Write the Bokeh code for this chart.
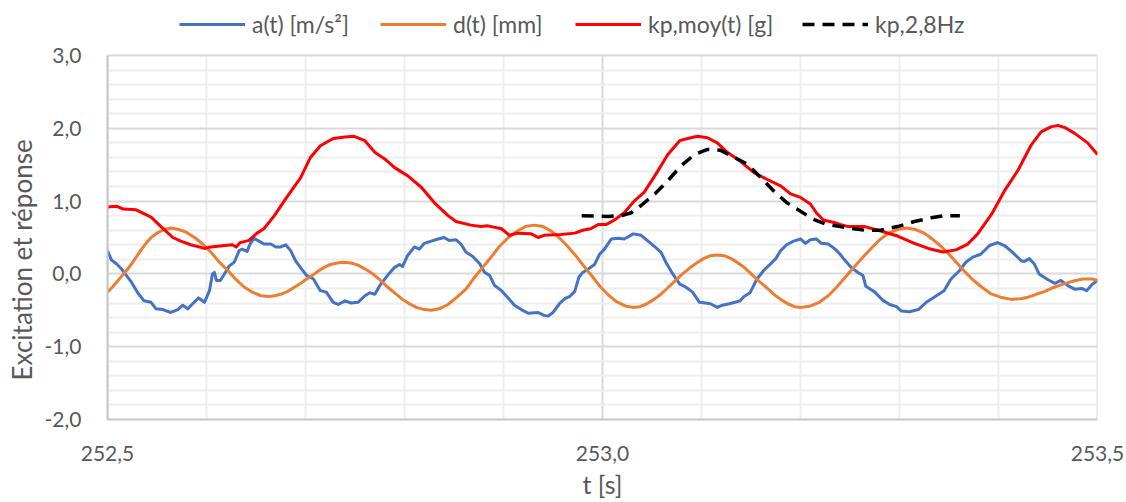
from bokeh.plotting import figure
from bokeh.models import Range1d, FixedTicker, Legend, LegendItem
from bokeh.embed import file_html
from bokeh.resources import INLINE

# ---------------- data ----------------
a_t = [252.500, 252.504, 252.509, 252.514, 252.519, 252.524, 252.531, 252.537, 252.544, 252.549,
       252.556, 252.564, 252.571, 252.576, 252.581, 252.586, 252.592, 252.598, 252.603, 252.606,
       252.608, 252.610, 252.614, 252.619, 252.623, 252.628, 252.633, 252.636, 252.641, 252.644,
       252.648, 252.653, 252.658, 252.665, 252.670, 252.675, 252.680, 252.685, 252.690, 252.696,
       252.701, 252.708, 252.715, 252.721, 252.728, 252.733, 252.740, 252.746, 252.753, 252.760,
       252.765, 252.770, 252.776, 252.783, 252.790, 252.795, 252.798, 252.803, 252.810, 252.815,
       252.820, 252.827, 252.834, 252.840, 252.845, 252.852, 252.857, 252.862, 252.869, 252.876,
       252.881, 252.886, 252.891, 252.898, 252.904, 252.911, 252.918, 252.925, 252.935, 252.941,
       252.945, 252.950, 252.957, 252.962, 252.967, 252.972, 252.976, 252.980, 252.986, 252.992,
       252.997, 253.002, 253.009, 253.016, 253.022, 253.031, 253.039, 253.046, 253.053, 253.059,
       253.064, 253.071, 253.078, 253.084, 253.091, 253.098, 253.104, 253.109, 253.116, 253.121,
       253.128, 253.134, 253.139, 253.143, 253.149, 253.156, 253.163, 253.170, 253.175, 253.180,
       253.186, 253.193, 253.200, 253.205, 253.210, 253.216, 253.221, 253.228, 253.235, 253.240,
       253.244, 253.251, 253.258, 253.263, 253.266, 253.275, 253.283, 253.290, 253.297, 253.302,
       253.310, 253.319, 253.327, 253.335, 253.345, 253.352, 253.361, 253.367, 253.374, 253.382,
       253.391, 253.399, 253.406, 253.414, 253.423, 253.426, 253.431, 253.436, 253.441, 253.450,
       253.457, 253.463, 253.470, 253.477, 253.484, 253.489, 253.495, 253.500]
a_v = [0.32, 0.19, 0.14, 0.07, -0.02, -0.11, -0.27, -0.37, -0.39, -0.48,
       -0.49, -0.53, -0.49, -0.43, -0.48, -0.41, -0.33, -0.39, -0.23, 0.00,
       0.02, -0.09, -0.09, 0.02, 0.11, 0.16, 0.32, 0.34, 0.31, 0.41,
       0.49, 0.45, 0.41, 0.41, 0.37, 0.37, 0.40, 0.32, 0.18, 0.07,
       -0.02, -0.07, -0.23, -0.25, -0.39, -0.42, -0.37, -0.40, -0.39, -0.30,
       -0.26, -0.28, -0.14, -0.02, 0.09, 0.13, 0.10, 0.25, 0.37, 0.34,
       0.42, 0.45, 0.48, 0.50, 0.46, 0.47, 0.41, 0.30, 0.24, 0.14,
       0.02, -0.02, -0.16, -0.23, -0.32, -0.43, -0.49, -0.54, -0.53, -0.57,
       -0.58, -0.53, -0.40, -0.34, -0.31, -0.24, -0.05, 0.02, 0.07, 0.13,
       0.27, 0.34, 0.48, 0.49, 0.48, 0.55, 0.53, 0.45, 0.37, 0.30,
       0.16, 0.00, -0.14, -0.18, -0.25, -0.39, -0.40, -0.41, -0.46, -0.43,
       -0.41, -0.39, -0.37, -0.31, -0.26, -0.07, 0.05, 0.14, 0.21, 0.32,
       0.40, 0.45, 0.48, 0.42, 0.47, 0.48, 0.42, 0.41, 0.34, 0.27,
       0.20, 0.09, 0.02, -0.02, -0.17, -0.25, -0.36, -0.42, -0.45, -0.51,
       -0.52, -0.49, -0.39, -0.32, -0.23, -0.07, 0.05, 0.16, 0.23, 0.27,
       0.39, 0.43, 0.39, 0.30, 0.18, 0.17, 0.21, 0.14, 0.00, -0.08,
       -0.13, -0.09, -0.16, -0.21, -0.20, -0.23, -0.14, -0.09]

d_t = [252.500, 252.505, 252.510, 252.515, 252.520, 252.525, 252.530, 252.535, 252.540, 252.545,
       252.550, 252.557, 252.564, 252.572, 252.580, 252.589, 252.597, 252.605, 252.613, 252.622,
       252.630, 252.638, 252.646, 252.655, 252.663, 252.669, 252.675, 252.682, 252.688, 252.694,
       252.700, 252.707, 252.713, 252.719, 252.725, 252.732, 252.738, 252.746, 252.753, 252.760,
       252.768, 252.775, 252.782, 252.790, 252.797, 252.805, 252.812, 252.820, 252.827, 252.835,
       252.844, 252.853, 252.862, 252.870, 252.879, 252.888, 252.896, 252.905, 252.914, 252.922,
       252.931, 252.940, 252.948, 252.956, 252.964, 252.973, 252.981, 252.990, 252.998, 253.006,
       253.014, 253.023, 253.031, 253.038, 253.045, 253.052, 253.059, 253.066, 253.073, 253.080,
       253.088, 253.095, 253.102, 253.109, 253.116, 253.123, 253.130, 253.137, 253.144, 253.151,
       253.158, 253.166, 253.173, 253.180, 253.187, 253.194, 253.201, 253.210, 253.219, 253.228,
       253.236, 253.245, 253.254, 253.263, 253.272, 253.280, 253.289, 253.298, 253.307, 253.316,
       253.325, 253.333, 253.342, 253.350, 253.358, 253.366, 253.374, 253.383, 253.392, 253.402,
       253.413, 253.422, 253.430, 253.438, 253.447, 253.455, 253.463, 253.470, 253.478, 253.485,
       253.490, 253.495, 253.500]
d_v = [-0.25, -0.18, -0.10, -0.02, 0.06, 0.15, 0.25, 0.35, 0.44, 0.51,
       0.56, 0.61, 0.63, 0.61, 0.57, 0.49, 0.40, 0.29, 0.16, 0.04,
       -0.08, -0.18, -0.25, -0.30, -0.31, -0.30, -0.28, -0.24, -0.19, -0.14,
       -0.08, -0.02, 0.04, 0.09, 0.13, 0.15, 0.16, 0.15, 0.12, 0.07,
       0.00, -0.08, -0.17, -0.26, -0.34, -0.41, -0.46, -0.49, -0.50, -0.48,
       -0.42, -0.32, -0.21, -0.06, 0.09, 0.24, 0.38, 0.50, 0.59, 0.65,
       0.67, 0.65, 0.59, 0.50, 0.39, 0.25, 0.11, -0.04, -0.18, -0.29,
       -0.38, -0.44, -0.46, -0.45, -0.41, -0.35, -0.28, -0.19, -0.10, -0.01,
       0.08, 0.15, 0.21, 0.25, 0.26, 0.25, 0.21, 0.15, 0.08, -0.01,
       -0.10, -0.19, -0.28, -0.35, -0.41, -0.45, -0.46, -0.44, -0.39, -0.30,
       -0.19, -0.05, 0.09, 0.23, 0.36, 0.47, 0.56, 0.61, 0.63, 0.61,
       0.56, 0.48, 0.38, 0.27, 0.15, 0.03, -0.08, -0.18, -0.27, -0.32,
       -0.35, -0.34, -0.32, -0.28, -0.24, -0.19, -0.15, -0.12, -0.09, -0.07,
       -0.07, -0.07, -0.09]

k_t = [252.500, 252.509, 252.516, 252.529, 252.544, 252.554, 252.566, 252.574, 252.584, 252.598,
       252.604, 252.626, 252.630, 252.634, 252.643, 252.651, 252.658, 252.668, 252.681, 252.695,
       252.705, 252.715, 252.728, 252.740, 252.749, 252.760, 252.770, 252.780, 252.790, 252.803,
       252.817, 252.830, 252.844, 252.852, 252.867, 252.877, 252.884, 252.898, 252.906, 252.914,
       252.928, 252.935, 252.941, 252.958, 252.972, 252.980, 252.988, 252.996, 253.004, 253.012,
       253.022, 253.032, 253.042, 253.053, 253.066, 253.078, 253.086, 253.096, 253.106, 253.116,
       253.126, 253.139, 253.153, 253.166, 253.180, 253.190, 253.200, 253.210, 253.216, 253.223,
       253.233, 253.240, 253.248, 253.265, 253.281, 253.298, 253.315, 253.329, 253.344, 253.357,
       253.369, 253.379, 253.393, 253.406, 253.420, 253.433, 253.443, 253.453, 253.460, 253.467,
       253.477, 253.490, 253.500]
k_v = [0.92, 0.93, 0.89, 0.88, 0.78, 0.65, 0.50, 0.45, 0.40, 0.35,
       0.37, 0.40, 0.37, 0.43, 0.46, 0.56, 0.62, 0.79, 1.05, 1.32,
       1.60, 1.76, 1.86, 1.88, 1.89, 1.83, 1.67, 1.58, 1.46, 1.35,
       1.19, 0.98, 0.80, 0.72, 0.67, 0.65, 0.66, 0.62, 0.53, 0.56,
       0.55, 0.50, 0.53, 0.54, 0.56, 0.60, 0.62, 0.68, 0.68, 0.74,
       0.84, 1.00, 1.12, 1.35, 1.64, 1.83, 1.86, 1.89, 1.87, 1.80,
       1.67, 1.55, 1.39, 1.30, 1.21, 1.10, 1.05, 0.96, 0.84, 0.74,
       0.71, 0.68, 0.65, 0.65, 0.59, 0.52, 0.42, 0.35, 0.30, 0.33,
       0.41, 0.55, 0.82, 1.14, 1.43, 1.77, 1.95, 2.02, 2.04, 2.01,
       1.93, 1.80, 1.64]

f_t = [252.979, 253.006, 253.019, 253.029, 253.039, 253.053, 253.066, 253.079, 253.093, 253.106,
       253.119, 253.133, 253.146, 253.160, 253.173, 253.186, 253.200, 253.213, 253.226, 253.240,
       253.248, 253.265, 253.281, 253.298, 253.315, 253.332, 253.345, 253.361]
f_v = [0.80, 0.79, 0.80, 0.84, 0.94, 1.10, 1.28, 1.48, 1.64, 1.71,
       1.70, 1.60, 1.51, 1.32, 1.14, 0.98, 0.86, 0.75, 0.68, 0.65,
       0.63, 0.60, 0.60, 0.65, 0.72, 0.77, 0.80, 0.80]

series_names = ["a(t) [m/s²]", "d(t) [mm]", "kp,moy(t) [g]", "kp,2,8Hz"]

x_ticks = [252.5, 253.0, 253.5]
x_tick_labels = ["252,5", "253,0", "253,5"]
x_minor = [252.6, 252.7, 252.8, 252.9, 253.1, 253.2, 253.3, 253.4]
y_ticks = [-2, -1, 0, 1, 2, 3]
y_tick_labels = ["-2,0", "-1,0", "0,0", "1,0", "2,0", "3,0"]
y_minor = [-1.8, -1.6, -1.4, -1.2, -0.8, -0.6, -0.4, -0.2, 0.2, 0.4, 0.6, 0.8,
           1.2, 1.4, 1.6, 1.8, 2.2, 2.4, 2.6, 2.8]
x_title = "t [s]"
y_title = "Excitation et réponse"

# ---------------- figure ----------------
FONT = "Lato"
TXT = "#595959"
Y_MIN, Y_MAX = y_ticks[0], y_ticks[-1]
# frame reaches the top of the page; the extra room above 3,0 holds the legend
Y_TOP = Y_MAX + 55.0 / 72.8

p = figure(width=1126, height=502, output_backend="svg", toolbar_location=None,
           x_range=Range1d(252.5, 253.5), y_range=Range1d(Y_MIN, Y_TOP),
           min_border_left=107, min_border_right=29, min_border_top=0, min_border_bottom=83)
p.outline_line_color = None
p.background_fill_color = "white"

xt = FixedTicker(ticks=x_ticks, minor_ticks=x_minor)
yt = FixedTicker(ticks=y_ticks, minor_ticks=y_minor)
p.xaxis.ticker = xt
p.yaxis.ticker = yt
p.ygrid.ticker = yt
p.ygrid.grid_line_color = "#d9d9d9"
p.ygrid.grid_line_width = 2
p.ygrid.minor_grid_line_color = "#eeeeee"
p.ygrid.minor_grid_line_width = 2
p.xgrid.grid_line_color = None

# vertical grid lines limited to the value range
p.segment(x0=x_minor, x1=x_minor, y0=[Y_MIN] * len(x_minor), y1=[Y_MAX] * len(x_minor),
          line_color="#eeeeee", line_width=2, level="underlay")
p.segment(x0=x_ticks, x1=x_ticks, y0=[Y_MIN] * len(x_ticks), y1=[Y_MAX] * len(x_ticks),
          line_color="#d9d9d9", line_width=2, level="underlay")

p.xaxis.major_label_overrides = dict(zip(x_ticks, x_tick_labels))
p.yaxis.major_label_overrides = {float(k): v for k, v in zip(y_ticks, y_tick_labels)}
p.yaxis.bounds = (Y_MIN, Y_MAX)

for ax in (p.xaxis, p.yaxis):
    ax.axis_line_color = "#c6c6c6"
    ax.axis_line_width = 2
    ax.major_tick_line_color = None
    ax.minor_tick_line_color = None
    ax.major_label_text_font = FONT
    ax.major_label_text_font_size = "21px"
    ax.major_label_text_color = TXT
    ax.axis_label_text_font = FONT
    ax.axis_label_text_font_size = "25px"
    ax.axis_label_text_font_style = "normal"
    ax.axis_label_text_color = TXT

# trailing no-break spaces shift the title down to where the reference has it
p.yaxis.axis_label = y_title + "\u00a0" * 15
p.yaxis.axis_label_text_font_size = "26px"
p.xaxis.axis_label = x_title
p.xaxis.major_label_standoff = 20
p.xaxis.axis_label_standoff = 5
p.yaxis.major_label_standoff = 20
p.yaxis.axis_label_standoff = 4

r_a = p.line(a_t, a_v, line_color="#4472C4", line_width=3, line_join="round")
r_d = p.line(d_t, d_v, line_color="#ED7D31", line_width=3, line_join="round")
r_k = p.line(k_t, k_v, line_color="#FF0000", line_width=3, line_join="round")
r_f = p.line(f_t, f_v, line_color="#000000", line_width=3.5, line_dash="12 8")

# one legend entry per box, each placed where the reference has it
legend_x = [72, 273, 468, 695]
for name, rend, lx in zip(series_names, [r_a, r_d, r_k, r_f], legend_x):
    lg = Legend(items=[LegendItem(label=name, renderers=[rend])],
                location=(lx, 381), orientation="horizontal",
                background_fill_alpha=0, border_line_alpha=0,
                padding=0, margin=0, spacing=0,
                glyph_width=66, glyph_height=26, label_height=26, label_standoff=7,
                label_text_font=FONT, label_text_font_size="23px",
                label_text_color=TXT)
    p.add_layout(lg)

open("out.html", "w").write(file_html(p, INLINE))
